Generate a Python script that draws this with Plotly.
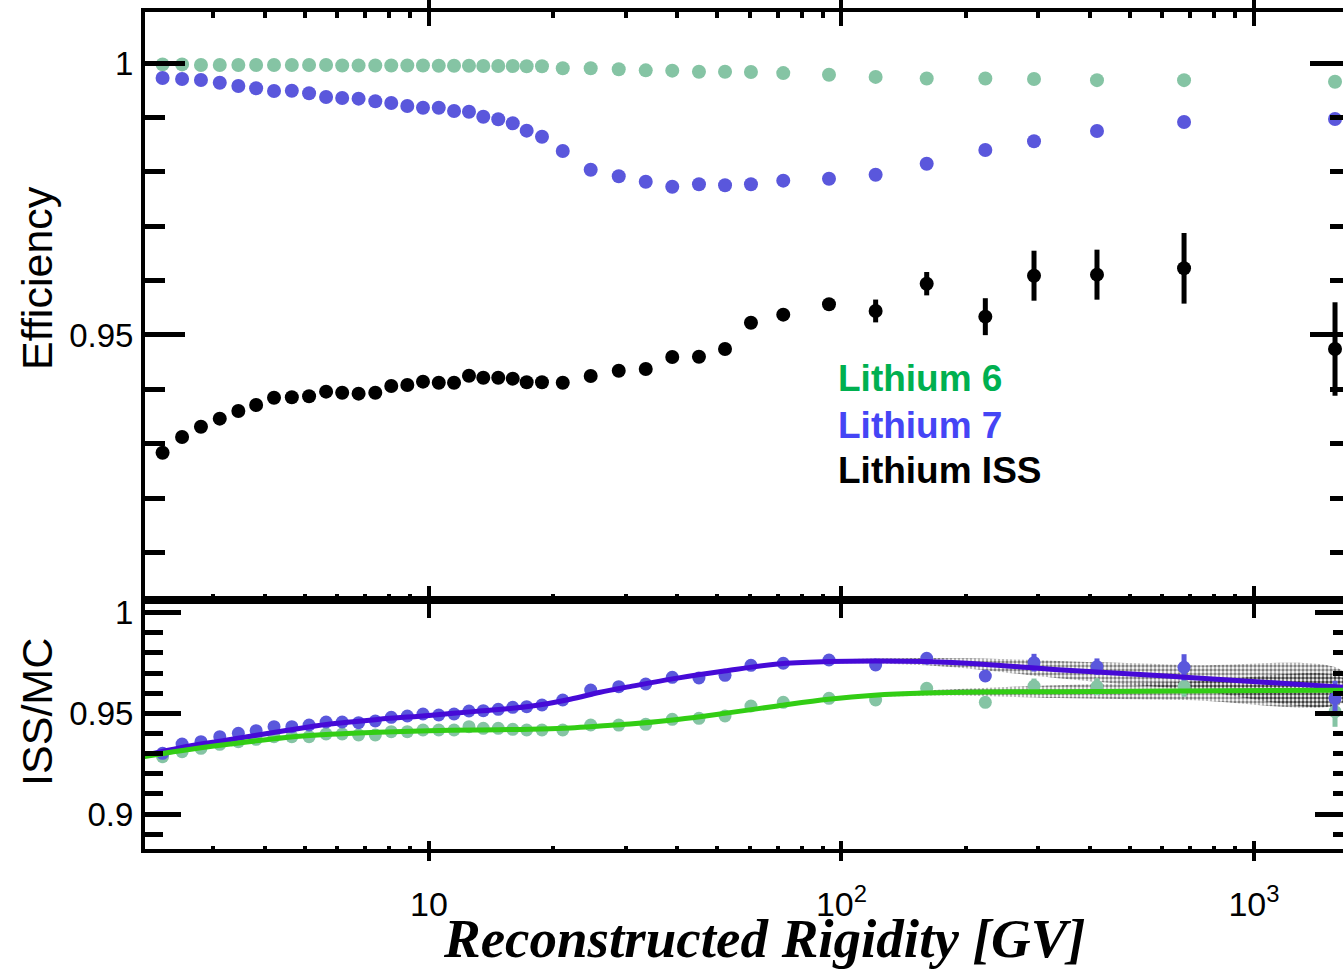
import plotly.graph_objects as go

# Rigidity bin centres [GV]
rigidity = [2.26, 2.52, 2.80, 3.11, 3.45, 3.81, 4.21, 4.65, 5.12, 5.63,
            6.16, 6.75, 7.41, 8.10, 8.86, 9.67, 10.56, 11.5, 12.5, 13.54,
            14.72, 15.96, 17.25, 18.79, 21.1, 24.66, 28.84, 33.53, 38.88, 45.13,
            52.2, 60.33, 72.25, 93.26, 121.0, 160.9, 223.2, 292.9, 416.3, 676.8,
            1572.0]

# Efficiencies (top panel)
li6_eff = [0.9998, 0.9998, 0.9997, 0.9997, 0.9997, 0.9997, 0.9997, 0.9997, 0.9997, 0.9997,
           0.9996, 0.9996, 0.9996, 0.9996, 0.9996, 0.9996, 0.99955, 0.99955, 0.99955, 0.9995,
           0.9995, 0.9995, 0.99945, 0.99945, 0.9991, 0.9991, 0.9989, 0.9987, 0.99865, 0.99845,
           0.99845, 0.9984, 0.9982, 0.9979, 0.9975, 0.9972, 0.9972, 0.9971, 0.9969, 0.9969,
           0.9966]
li7_eff = [0.99729, 0.99711, 0.99693, 0.99643, 0.99582, 0.9954, 0.9949, 0.99496, 0.99448, 0.9938,
           0.99361, 0.99349, 0.99301, 0.99269, 0.99214, 0.99183, 0.99183, 0.99122, 0.99109, 0.99017,
           0.98969, 0.98896, 0.9876, 0.98649, 0.98386, 0.98042, 0.9792, 0.97821, 0.97729, 0.97773,
           0.97755, 0.97773, 0.9784, 0.97876, 0.9795, 0.98152, 0.98405, 0.98565, 0.98754, 0.9892,
           0.98975]
iss_eff = [0.92834, 0.93123, 0.93312, 0.9346, 0.93601, 0.93712, 0.93846, 0.93853, 0.93872, 0.93957,
           0.93938, 0.9392, 0.93938, 0.94061, 0.9408, 0.94141, 0.94122, 0.94122, 0.94251, 0.94214,
           0.94214, 0.94196, 0.9413, 0.9413, 0.94122, 0.94245, 0.94343, 0.94374, 0.94595, 0.946,
           0.94742, 0.95226, 0.95374, 0.95565, 0.95442, 0.95944, 0.95337, 0.96091, 0.9611, 0.96227,
           0.94742]
iss_err = [0.0003] * 30 + [0.0003, 0.0004, 0.0007, 0.0009, 0.0021, 0.00215, 0.0034, 0.0046,
                           0.0046, 0.0065, 0.0086]

# Data / MC ratios (bottom panel)
li6_ratio = [0.9285, 0.93098, 0.93267, 0.93466, 0.93595, 0.93714, 0.93843, 0.93843, 0.93843, 0.93977,
             0.93977, 0.93928, 0.93928, 0.94091, 0.94091, 0.94176, 0.94176, 0.94176, 0.9434, 0.9426,
             0.9426, 0.9421, 0.94176, 0.94176, 0.94176, 0.94424, 0.9442, 0.94459, 0.94707, 0.94757,
             0.94871, 0.95367, 0.95551, 0.9575, 0.95665, 0.96246, 0.95551, 0.9636, 0.96326, 0.96326,
             0.95084]
li7_ratio = [0.93019, 0.9348, 0.93595, 0.93843, 0.94012, 0.94141, 0.9434, 0.9434, 0.94424, 0.94573,
             0.94573, 0.94538, 0.94623, 0.94806, 0.94871, 0.9497, 0.9492, 0.9497, 0.95119, 0.95134,
             0.95204, 0.95303, 0.95333, 0.95417, 0.95665, 0.96162, 0.96326, 0.9646, 0.96792, 0.96758,
             0.96892, 0.97388, 0.97488, 0.97651, 0.97403, 0.97736, 0.96857, 0.97517, 0.97319, 0.97289,
             0.9575]
li6_ratio_err = [0.0] * 34 + [0.001, 0.0015, 0.002, 0.0037, 0.0042, 0.005, 0.0075]
li7_ratio_err = [0.0] * 34 + [0.001, 0.0015, 0.002, 0.0044, 0.0041, 0.0065, 0.0087]

# Smooth fits of the ratios and their uncertainty bands
fit_rigidity = [2.03, 2.5, 3.3, 4.5, 5.75, 7.5, 10, 13, 17.6, 22, 26, 30.7, 40, 52, 70, 93,
                120, 160, 220, 335, 680, 1650]
li7_fit = [0.9290, 0.9330, 0.9370, 0.9415, 0.9447, 0.9470, 0.9490, 0.9510, 0.9535, 0.9570,
           0.9605, 0.9633, 0.9675, 0.9710, 0.9745, 0.9757, 0.9760, 0.9757, 0.9744, 0.9717,
           0.9680, 0.9630]
li6_fit = [0.9285, 0.9315, 0.9348, 0.9380, 0.9396, 0.9406, 0.9414, 0.9418, 0.9421, 0.9428,
           0.9437, 0.9447, 0.9470, 0.9500, 0.9537, 0.9570, 0.9590, 0.9601, 0.9606, 0.9608,
           0.9611, 0.9615]
li7_band = [0] * 14 + [0.0003, 0.0008, 0.0012, 0.0018, 0.0028, 0.0043, 0.0060, 0.0076]
li6_band = [0] * 15 + [0.0003, 0.0008, 0.0013, 0.0020, 0.0032, 0.0045, 0.0057]

x_tickvals = [10, 100, 1000]
x_ticktext = ["10", "10<sup>2</sup>", "10<sup>3</sup>"]
x_minor = [3, 4, 5, 6, 7, 8, 9, 20, 30, 40, 50, 60, 70, 80, 90,
           200, 300, 400, 500, 600, 700, 800, 900]
top_tickvals = [0.95, 1.0]
top_ticktext = ["0.95", "1"]
top_minor = [0.91, 0.92, 0.93, 0.94, 0.96, 0.97, 0.98, 0.99]
bot_tickvals = [0.9, 0.95, 1.0]
bot_ticktext = ["0.9", "0.95", "1"]
bot_minor = [0.89, 0.91, 0.92, 0.93, 0.94, 0.96, 0.97, 0.98, 0.99]

GREEN = "#85C4A4"
BLUE = "#5A57DC"
FIT_BLUE = "rgb(70,10,215)"
FIT_GREEN = "rgb(50,205,20)"
LABEL_FONT = "Liberation Sans, Arial, sans-serif"

fig = go.Figure()


def band_trace(center, half):
    xs = [r for r, h in zip(fit_rigidity, half) if h > 0]
    up = [c + h for c, h in zip(center, half) if h > 0]
    lo = [c - h for c, h in zip(center, half) if h > 0]
    return go.Scatter(
        x=xs + xs[::-1], y=up + lo[::-1], xaxis="x2", yaxis="y2",
        mode="lines", line=dict(width=0, color="rgba(0,0,0,0)", shape="spline"),
        fill="toself", fillcolor="rgba(0,0,0,0)",
        fillpattern=dict(shape=".", fgcolor="black", bgcolor="rgba(255,255,255,0)",
                         size=4, solidity=0.55),
        showlegend=False, hoverinfo="skip")


# Top panel: efficiencies
fig.add_trace(go.Scatter(x=rigidity, y=li6_eff, mode="markers", xaxis="x", yaxis="y",
                         marker=dict(color=GREEN, size=14), showlegend=False))
fig.add_trace(go.Scatter(x=rigidity, y=li7_eff, mode="markers", xaxis="x", yaxis="y",
                         marker=dict(color=BLUE, size=14), showlegend=False))
fig.add_trace(go.Scatter(x=rigidity, y=iss_eff, mode="markers", xaxis="x", yaxis="y",
                         marker=dict(color="black", size=14),
                         error_y=dict(type="data", array=iss_err, color="black",
                                      thickness=5, width=0),
                         showlegend=False))

# Bottom panel: bands, ratios, fits
fig.add_trace(band_trace(li7_fit, li7_band))
fig.add_trace(band_trace(li6_fit, li6_band))
fig.add_trace(go.Scatter(x=rigidity, y=li6_ratio, mode="markers", xaxis="x2", yaxis="y2",
                         marker=dict(color=GREEN, size=13),
                         error_y=dict(type="data", array=li6_ratio_err, color=GREEN,
                                      thickness=5, width=0),
                         showlegend=False))
fig.add_trace(go.Scatter(x=rigidity, y=li7_ratio, mode="markers", xaxis="x2", yaxis="y2",
                         marker=dict(color=BLUE, size=13),
                         error_y=dict(type="data", array=li7_ratio_err, color=BLUE,
                                      thickness=5, width=0),
                         showlegend=False))
fig.add_trace(go.Scatter(x=fit_rigidity, y=li7_fit, mode="lines", xaxis="x2", yaxis="y2",
                         line=dict(color=FIT_BLUE, width=5, shape="spline"), showlegend=False))
fig.add_trace(go.Scatter(x=fit_rigidity, y=li6_fit, mode="lines", xaxis="x2", yaxis="y2",
                         line=dict(color=FIT_GREEN, width=5, shape="spline"), showlegend=False))

# Empty traces that carry the extra tick-only axes
for xa, ya in [("x", "y3"), ("x2", "y4"), ("x3", "y"), ("x4", "y"), ("x5", "y2"), ("x6", "y2")]:
    fig.add_trace(go.Scatter(x=[], y=[], xaxis=xa, yaxis=ya, showlegend=False, hoverinfo="skip"))

x_range = [0.3115, 3.2158]
top_range = [0.90123, 1.00944]
bot_range = [0.88267, 1.0063]
split = 0.2975

common_x = dict(type="log", range=x_range, showgrid=False, zeroline=False,
                showline=True, linewidth=4, linecolor="black", mirror="allticks",
                ticks="inside", tickvals=x_tickvals, tickwidth=4, tickcolor="black")


def minor_x(over, anchor, side, length):
    # tick-only axis carrying the 2..9 decade subdivisions on one edge
    return dict(type="log", range=x_range, overlaying=over, anchor=anchor, side=side,
                showgrid=False, zeroline=False, showline=False, showticklabels=False,
                ticks="inside", tickvals=x_minor, ticklen=length, tickwidth=4,
                tickcolor="black")


fig.update_layout(
    width=1343, height=970,
    margin=dict(l=145, r=0, t=12, b=121),
    paper_bgcolor="white", plot_bgcolor="white",
    font=dict(family=LABEL_FONT, color="black"),
    xaxis=dict(common_x, anchor="y", domain=[0, 1], showticklabels=False, ticklen=14),
    xaxis2=dict(common_x, anchor="y2", domain=[0, 1], ticklen=8,
                ticktext=x_ticktext, tickfont=dict(size=34, family=LABEL_FONT),
                ticklabelstandoff=22),
    xaxis3=minor_x("x", "y", "bottom", 6),
    xaxis4=minor_x("x", "y", "top", 6),
    xaxis5=minor_x("x2", "y2", "bottom", 3),
    xaxis6=minor_x("x2", "y2", "top", 3),
    yaxis=dict(domain=[split, 1], anchor="x", range=top_range, showgrid=False, zeroline=False,
               showline=True, linewidth=4, linecolor="black", mirror=False,
               ticks="inside", tickvals=top_tickvals, ticktext=top_ticktext,
               ticklen=40, tickwidth=5, tickcolor="black",
               tickfont=dict(size=33, family=LABEL_FONT), ticklabelstandoff=1,
               minor=dict(tickmode="array", tickvals=top_minor, ticks="inside", ticklen=20,
                          tickwidth=5, tickcolor="black")),
    yaxis2=dict(domain=[0, split], anchor="x2", range=bot_range, showgrid=False, zeroline=False,
                showline=True, linewidth=4, linecolor="black", mirror=False,
                ticks="inside", tickvals=bot_tickvals, ticktext=bot_ticktext,
                ticklen=36, tickwidth=5, tickcolor="black",
                tickfont=dict(size=33, family=LABEL_FONT), ticklabelstandoff=1,
                minor=dict(tickmode="array", tickvals=bot_minor, ticks="inside", ticklen=18,
                           tickwidth=5, tickcolor="black")),
    yaxis3=dict(overlaying="y", anchor="x", side="right", range=top_range, showgrid=False,
                zeroline=False, showline=False, showticklabels=False,
                ticks="inside", tickvals=top_tickvals, ticklen=33, tickwidth=5,
                tickcolor="black",
                minor=dict(tickmode="array", tickvals=top_minor, ticks="inside", ticklen=13,
                           tickwidth=5, tickcolor="black")),
    yaxis4=dict(overlaying="y2", anchor="x2", side="right", range=bot_range, showgrid=False,
                zeroline=False, showline=False, showticklabels=False,
                ticks="inside", tickvals=bot_tickvals, ticklen=28, tickwidth=5,
                tickcolor="black",
                minor=dict(tickmode="array", tickvals=bot_minor, ticks="inside", ticklen=10,
                           tickwidth=5, tickcolor="black")),
)

# Axis titles
fig.add_annotation(text="Efficiency", xref="paper", yref="paper", x=-0.0902, y=0.6822,
                   textangle=-90, showarrow=False, xanchor="center", yanchor="middle",
                   font=dict(size=43, family=LABEL_FONT, color="black"))
fig.add_annotation(text="ISS/MC", xref="paper", yref="paper", x=-0.0902, y=0.1637,
                   textangle=-90, showarrow=False, xanchor="center", yanchor="middle",
                   font=dict(size=43, family=LABEL_FONT, color="black"))
fig.add_annotation(text="<b><i>Reconstructed Rigidity [GV]</i></b>", xref="paper", yref="paper",
                   x=0.5175, y=-0.1070, showarrow=False, xanchor="center", yanchor="middle",
                   font=dict(size=55, family="Liberation Serif, Times New Roman, serif",
                             color="black"))

# Series labels
legend_items = [("Lithium 6", "#00B050", 0.5627),
                ("Lithium 7", "#4545F5", 0.5054),
                ("Lithium ISS", "black", 0.4528)]
for text, color, ypos in legend_items:
    fig.add_annotation(text=f"<b>{text}</b>", xref="paper", yref="paper", x=0.5768, y=ypos,
                       showarrow=False, xanchor="left", yanchor="middle",
                       font=dict(size=37, family=LABEL_FONT, color=color))

fig.write_html("out.html", config={"displayModeBar": False})
